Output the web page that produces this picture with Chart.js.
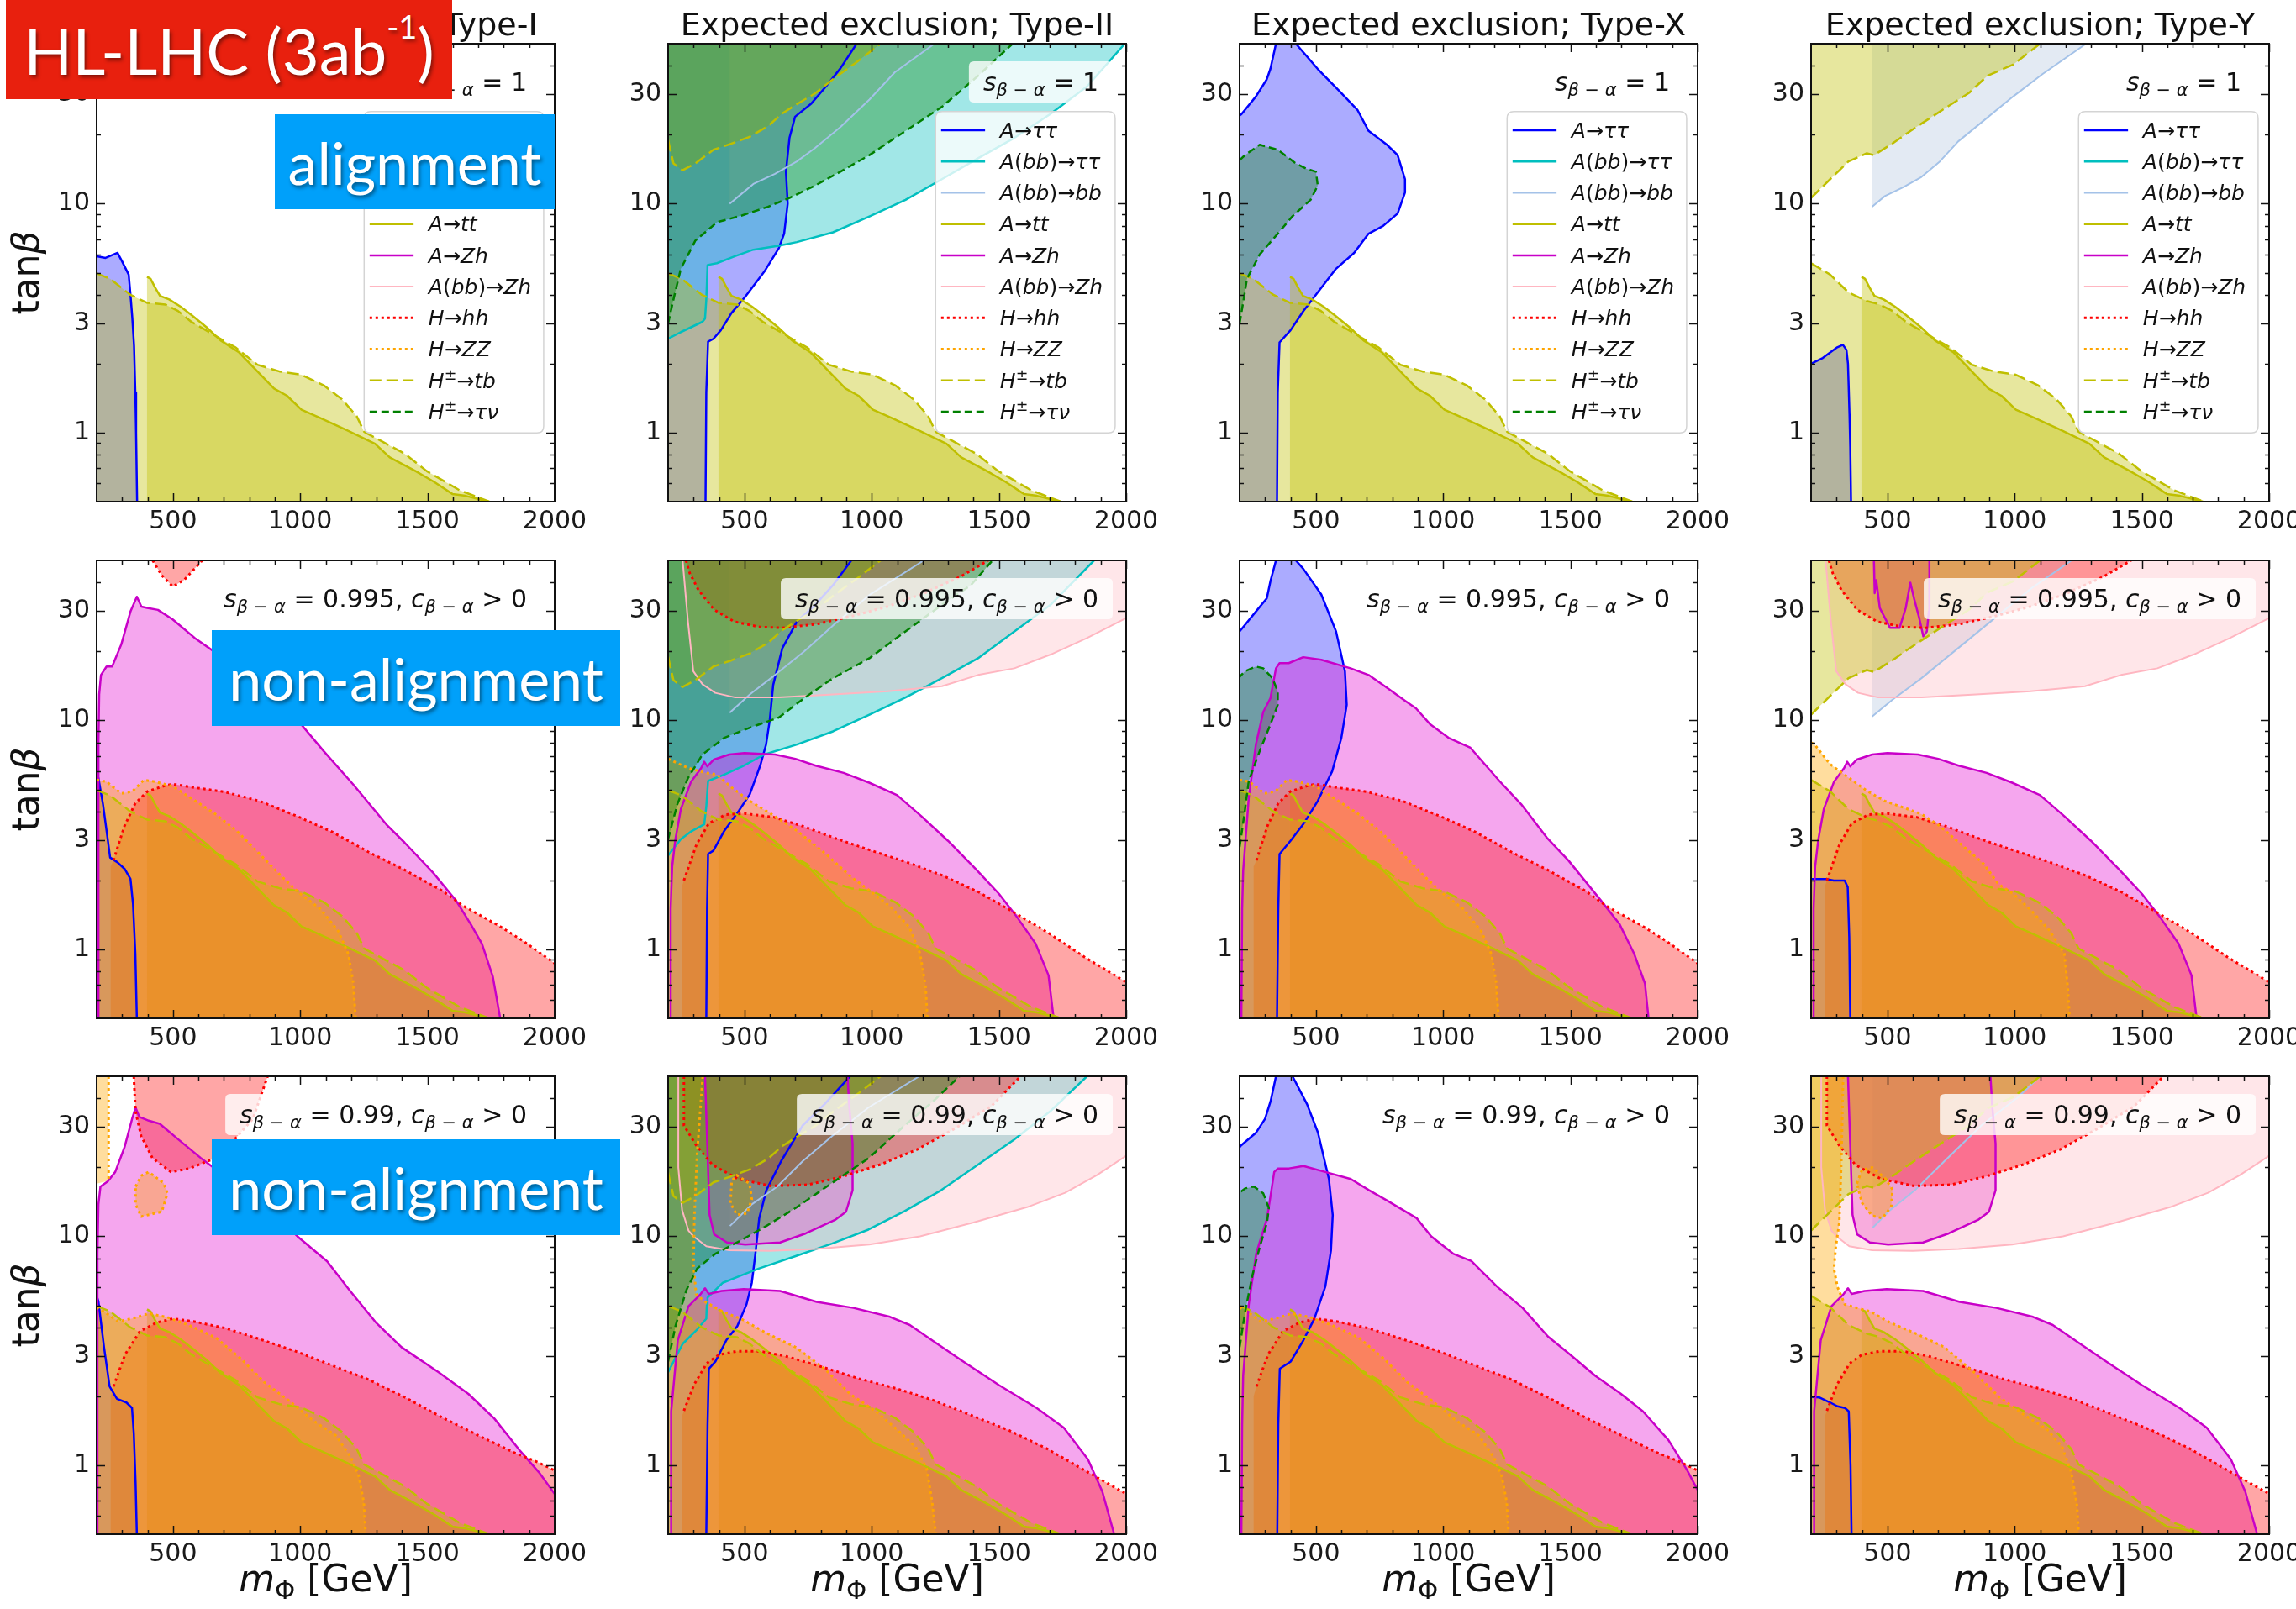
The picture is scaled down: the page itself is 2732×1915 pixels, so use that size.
<!DOCTYPE html>
<html>
<head>
<meta charset="utf-8">
<title>HL-LHC expected exclusion</title>
<script src="https://cdn.jsdelivr.net/npm/chart.js@4.4.0/dist/chart.umd.min.js"></script>
<style>
  body { margin: 0; width: 2732px; height: 1915px; background: #fff; position: relative; overflow: hidden; }
  canvas { position: absolute; }
  .tag { position: absolute; z-index: 10; color: #fff; font-family: Lato, "Open Sans", sans-serif;
         display: flex; align-items: center; justify-content: center; text-shadow: 2px 3px 4px rgba(0,0,0,0.45); }
  #hl { left: 7px; top: 0; width: 531px; height: 118px; background: #e8200e; font-size: 76px; }
  #hl .sup { font-size: 0.5em; position: relative; top: -0.75em; }
  .blue { background: #00a0fa; font-size: 70px; }
</style>
</head>
<body>
<div class="tag" id="hl">HL-LHC (3ab<span class="sup">-1</span>)</div>
<div class="tag blue" style="left:327px;top:136px;width:333px;height:113px">alignment</div>
<div class="tag blue" style="left:252px;top:750px;width:486px;height:114px">non-alignment</div>
<div class="tag blue" style="left:252px;top:1356px;width:486px;height:114px">non-alignment</div>

<script>
// points are [m_Phi in GeV, tan(beta)]
const xTicks = [500, 1000, 1500, 2000];
const yTicks = [1, 3, 10, 30];
const yMinor = [0.6, 0.7, 0.8, 0.9, 2, 4, 5, 6, 7, 8, 9, 20, 40];
const types = ['Type-I', 'Type-II', 'Type-X', 'Type-Y'];
const rowLabels = ['s_{β − α} = 1', 's_{β − α} = 0.995, c_{β − α} > 0', 's_{β − α} = 0.99, c_{β − α} > 0'];
const legendKeys = ['tau', 'bbtau', 'bb', 'tt', 'zh', 'bbzh', 'hh', 'zz', 'tb', 'taunu'];
const legendText = ['A→ττ', 'A(bb)→ττ', 'A(bb)→bb', 'A→tt', 'A→Zh', 'A(bb)→Zh', 'H→hh', 'H→ZZ', 'H^±→tb', 'H^±→τν'];

// shared curves
const ttLine = [[398,4.8],[412,4.7],[430,4.3],[449,3.96],[485,3.82],[530,3.55],[572,3.27],[630,2.9],[687,2.53],[760,2.24],[832,1.85],[897,1.56],[948,1.45],[1005,1.26],[1078,1.16],[1179,1.03],[1294,0.895],[1352,0.78],[1453,0.68],[1526,0.61],[1598,0.54],[1650,0.53],[1740,0.5]];
const tbLow = [[200,4.96],[253,4.7],[333,4.0],[398,3.69],[470,3.63],[520,3.4],[572,3.05],[630,2.8],[687,2.57],[745,2.36],[832,1.98],[919,1.85],[1005,1.79],[1092,1.61],[1164,1.4],[1222,1.18],[1251,1.01],[1338,0.895],[1410,0.81],[1497,0.68],[1627,0.56],[1743,0.5]];
const tbLowY = [[200,5.5],[275,4.9],[347,4.1],[419,3.76],[470,3.63],[520,3.4],[572,3.05],[630,2.8],[687,2.57],[745,2.36],[832,1.98],[919,1.85],[1005,1.79],[1092,1.61],[1164,1.4],[1222,1.18],[1251,1.01],[1338,0.895],[1410,0.81],[1497,0.68],[1627,0.56],[1743,0.5]];
const tbUpII = [[200,19],[207,17.5],[221,15],[257,14],[307,15],[378,17.2],[449,18.3],[520,19.6],[592,21.8],[649,24.8],[706,27.2],[777,30.3],[848,35],[934,41],[1035,50]];
const tbUpY = [[200,10.6],[275,12.8],[347,15.3],[419,16.6],[447,16.3],[519,18.3],[591,20.8],[663,23.5],[735,26.5],[821,30.5],[893,36.2],[994,40.5],[1100,50]];

// row 1, alignment
const I1_tau = [[200,5.9],[235,5.8],[282,6.1],[300,5.6],[326,4.9],[333,4.0],[340,3.2],[347,2.4],[352,1.5],[355,1.0],[359,0.5]];
const II1_tau = [[347,0.5],[350,1.5],[357,2.5],[378,2.57],[407,2.8],[449,3.33],[506,3.96],[578,5.05],[635,6.4],[656,7.4],[670,10],[663,13.8],[677,19.4],[699,24],[763,27.4],[820,32.5],[877,39],[941,50]];
const II1_bbtau = [[200,2.57],[250,2.75],[335,3.05],[345,3.15],[350,3.8],[355,5.4],[392,5.5],[463,5.9],[535,6.3],[635,6.55],[706,6.8],[848,7.5],[991,8.8],[1133,10.4],[1276,12.8],[1418,15.8],[1561,19.4],[1703,24.7],[1846,32.5],[1995,50]];
const II1_bb = [[442,10],[478,10.8],[535,12.2],[620,13.5],[706,15.3],[777,17.5],[877,21.6],[991,28.5],[1091,37.5],[1247,50]];
const II1_taunu = [[200,3],[221,3.82],[250,5.2],[307,6.9],[392,8.3],[492,8.9],[592,9.7],[677,10.6],[777,12],[877,13.8],[991,16.3],[1133,20.8],[1276,26.5],[1418,36.2],[1554,50]];
const X1_tauR = [[347,0.5],[350,1.5],[357,2.48],[400,2.8],[450,3.39],[507,4.1],[579,5.2],[650,6.1],[707,7.4],[764,8.0],[821,9.06],[850,11.2],[850,12.8],[821,16.3],[779,18.1],[707,20.8],[664,25.6],[593,31],[507,38.8],[421,50]];
const X1_tauL = [[343,50],[321,38.8],[307,35],[264,29.4],[207,24.6],[200,24.3]];
const X1_taunu = [[200,3],[214,3.7],[229,4.7],[279,6],[350,7.4],[407,8.8],[479,10.4],[507,12],[500,13.8],[464,14.2],[421,15],[350,17.2],[279,18.1],[221,16.3],[200,15.5]];
const Y1_tau = [[200,2.0],[246,2.12],[303,2.36],[325,2.42],[339,2.3],[345,2.0],[347,1.7],[351,1.2],[354,0.86],[357,0.5]];
const Y1_bb = [[440,9.7],[490,10.8],[562,11.8],[634,13.1],[706,15.3],[778,18.7],[879,23.1],[994,29.4],[1109,36.8],[1281,50]];

// row 2, s = 0.995
const I2_tau = [[200,6.0],[207,5.6],[225,4.3],[239,3.3],[253,2.52],[282,2.4],[311,2.24],[333,2.03],[343,1.58],[352,0.96],[358,0.5]];
const I2_zh = [[207,0.5],[207,8],[210,13],[217,15.8],[239,17.2],[261,17.2],[297,21.5],[333,29.9],[358,34.7],[376,31.4],[398,31],[441,30.4],[499,27.6],[586,22.9],[687,19.1],[832,14.8],[948,11.4],[1092,7.35],[1208,5.26],[1338,3.52],[1410,2.93],[1526,2.14],[1613,1.63],[1670,1.29],[1714,1.06],[1757,0.76],[1786,0.5]];
const I2_hhTop = [[420,50],[456,43],[499,38.5],[543,41],[615,50]];
const IX2_hh = [[266,2.45],[309,3.45],[352,4.35],[400,4.9],[470,5.2],[500,5.27],[590,5.08],[700,4.88],[840,4.45],[985,3.83],[1128,3.25],[1272,2.65],[1415,2.21],[1560,1.8],[1640,1.55],[1780,1.27],[1870,1.1],[2000,0.87]];
const IX2_zz = [[200,5.5],[239,5.4],[297,4.8],[340,4.9],[386,5.5],[430,5.4],[500,5.15],[575,4.55],[660,3.95],[750,3.3],[835,2.65],[920,2.12],[995,1.77],[1080,1.5],[1150,1.2],[1190,0.95],[1208,0.72],[1218,0.5]];
const II2_tau = [[350,0.5],[353,1.5],[357,2.61],[378,2.7],[421,3.3],[478,4.03],[521,4.76],[563,6.4],[585,7.85],[599,9.95],[613,14.3],[649,20.7],[706,27],[777,31.9],[848,39],[920,50]];
const II2_bbtau = [[200,2.57],[250,3.03],[293,3.29],[342,3.52],[350,4.2],[357,5.44],[421,5.8],[492,6.3],[578,7.1],[706,7.85],[848,8.96],[991,10.6],[1133,12.6],[1276,15.3],[1418,18.7],[1561,24.5],[1703,32],[1874,50]];
const II2_bb = [[442,10.8],[521,13],[620,15.8],[734,20],[848,26],[991,35.3],[1205,50]];
const II2_zz = [[200,6.8],[278,6.2],[350,5.9],[392,5.8],[449,5.1],[521,4.45],[606,3.9],[706,3.3],[820,2.61],[920,2.07],[991,1.81],[1076,1.53],[1148,1.25],[1190,0.96],[1212,0.69],[1219,0.5]];
const II2_taunu = [[200,3.03],[236,4.3],[278,5.6],[335,7.1],[421,8.4],[521,9.3],[635,10.3],[734,12.5],[848,15.3],[991,18.7],[1133,24.5],[1276,32],[1390,39],[1475,50]];
const IIY2_zh = [[210,0.5],[210,1.5],[216,2.3],[228,3.0],[250,4.1],[290,5.4],[330,6.2],[342,6.6],[354,6.3],[380,6.75],[440,7.1],[500,7.2],[620,7.1],[700,6.8],[780,6.35],[890,5.9],[990,5.35],[1100,4.72],[1195,3.82],[1300,2.98],[1410,2.24],[1500,1.75],[1572,1.38],[1644,1.06],[1695,0.77],[1715,0.5]];
const IIY2_bbzh = [[257,50],[278,27],[299,16.4],[335,14.4],[385,13.2],[464,12.6],[635,12.6],[848,13],[1062,13.4],[1276,14.1],[1418,15.8],[1561,16.9],[1703,19.4],[1846,22.9],[2000,28]];
const IIY2_hh = [[262,2.0],[312,2.88],[360,3.55],[425,3.88],[500,3.92],[615,3.78],[730,3.45],[860,3.05],[1000,2.7],[1140,2.4],[1280,2.1],[1420,1.78],[1560,1.45],[1700,1.17],[1840,0.92],[2000,0.72]];
const IIY2_hhTop = [[270,50],[285,44],[320,37],[380,30.5],[460,27],[560,25.6],[650,25.4],[780,26.3],[920,28.5],[1064,31.5],[1207,36],[1350,42.5],[1458,50]];
const X2_tauR = [[347,0.5],[352,1.5],[357,2.61],[400,2.98],[450,3.52],[507,4.45],[564,6],[600,8.4],[621,11.7],[614,16.4],[579,24.5],[521,35.5],[450,46],[421,50]];
const X2_tauL = [[343,50],[321,40.5],[307,34.2],[264,29.9],[207,25],[200,24.5]];
const X2_taunu = [[200,2.8],[219,3.9],[236,5.44],[279,7.35],[321,9.6],[350,11.7],[350,13.4],[329,15.3],[293,16.9],[264,17.2],[221,16.4],[200,15.5]];
const X2_zh = [[207,0.5],[210,1.5],[214,2.2],[236,4.6],[264,7.85],[293,10.9],[321,12.5],[343,16.9],[357,17.8],[393,17.8],[450,18.9],[521,18.4],[636,16.9],[707,15.8],[779,13.9],[850,12.2],[893,11.3],[950,9.6],[1021,8.4],[1107,7.6],[1221,5.44],[1307,4.3],[1407,3.08],[1493,2.44],[1621,1.63],[1693,1.29],[1750,0.96],[1793,0.71],[1807,0.5]];
const Y2_tau = [[200,2.03],[260,2.03],[289,2.0],[332,2.0],[344,1.87],[350,1.13],[354,0.5]];
const Y2_bb = [[440,10.4],[519,12.3],[634,15.3],[778,20.7],[922,28],[1066,37.8],[1224,50]];
const Y2_zhTop = [[447,50],[450,36],[456,41],[470,31],[510,25.4],[548,25.4],[572,31],[590,40],[605,34],[625,28],[641,23.3],[655,24.5],[663,30],[665,50]];
const Y2_zz = [[200,8.0],[214,7.85],[275,6.44],[347,5.63],[419,4.93],[490,4.45],[562,4.17],[634,3.9],[706,3.46],[792,2.86],[879,2.36],[936,1.93],[994,1.75],[1065,1.48],[1137,1.21],[1195,0.96],[1209,0.68],[1216,0.5]];

// row 3, s = 0.99
const I3_tau = [[200,5.5],[207,5.2],[229,3.28],[251,2.21],[280,1.95],[317,1.88],[339,1.78],[346,1.38],[353,0.84],[358,0.5]];
const I3_zh = [[203,0.5],[203,8.4],[207,13.8],[215,16.5],[244,17.4],[273,19.1],[310,24.6],[339,32.5],[353,36.5],[368,33.2],[405,32],[448,31],[521,26.5],[609,22],[741,17.1],[887,12.9],[989,10],[1106,7.77],[1193,5.83],[1296,4.22],[1398,3.28],[1544,2.55],[1661,2.05],[1763,1.6],[1866,1.15],[1939,0.93],[2000,0.75]];
const I3_hhTop = [[346,50],[353,35],[375,27.4],[419,22],[492,19.1],[565,19.8],[668,22],[741,26.4],[814,32.6],[872,50]];
const I3_zzTop = [[247,50],[247,17.5]];
const I3_zzBlob = [[353,16.5],[375,18.4],[405,19.1],[463,17.1],[478,15.4],[456,12.8],[375,12.2],[353,13.8],[353,16.5]];
const IX3_hh = [[266,2.21],[312,3.05],[370,3.85],[435,4.2],[500,4.37],[580,4.25],[703,3.98],[833,3.58],[978,3.16],[1122,2.74],[1268,2.37],[1412,1.98],[1557,1.62],[1700,1.35],[1846,1.13],[1926,1.04],[2000,0.95]];
const IX3_zz = [[200,4.9],[215,4.8],[285,4.25],[348,4.4],[405,4.6],[475,4.44],[570,4.06],[670,3.6],[770,2.9],[860,2.3],[960,1.9],[1050,1.57],[1140,1.35],[1200,1.08],[1230,0.9],[1250,0.69],[1257,0.5]];
const II3_tau = [[350,0.5],[355,1.5],[360,2.64],[386,2.84],[429,3.52],[472,4.06],[508,5.04],[529,6.27],[543,8.4],[558,12],[586,15.9],[644,21.3],[729,30.5],[815,37.8],[915,50]];
const II3_bbtau = [[200,2.55],[257,3.39],[314,3.92],[350,4.37],[352,5.0],[355,5.4],[415,6.27],[486,6.74],[558,7.24],[701,8.2],[844,9.3],[987,10.7],[1130,12.9],[1273,15.9],[1416,20.5],[1559,26.4],[1702,35.2],[1846,50]];
const II3_bb = [[443,11.1],[529,13.8],[629,16.5],[729,21.3],[844,27.4],[987,36.5],[1187,50]];
const II3_zz = [[336,50],[326,35],[314,23],[303,12],[300,7.5],[310,5.6],[343,5.2],[415,4.68],[486,4.37],[586,3.78],[701,3.28],[815,2.64],[915,2.05],[1016,1.72],[1101,1.43],[1173,1.2],[1216,0.97],[1237,0.7],[1252,0.5]];
const II3_zzBlob = [[445,14],[450,17.5],[470,18.5],[520,17],[529,14.5],[510,12.6],[470,12.4],[445,14]];
const II3_taunu = [[200,2.84],[229,4.06],[272,5.83],[314,7.24],[386,8.4],[486,9.6],[586,11.1],[701,13.3],[844,17.1],[987,21.9],[1130,30.5],[1245,39.2],[1345,50]];
const IIY3_bbzh = [[240,50],[240,20],[255,13],[280,10.6],[300,10],[350,9.05],[440,8.7],[600,8.65],[780,8.8],[990,9.2],[1190,10],[1400,11.5],[1610,13.4],[1760,15.5],[1885,18.5],[2000,22.5]];
const IIY3_zhTop = [[345,50],[356,21.3],[363,12.4],[381,10.2],[431,9.4],[503,9.2],[640,9.4],[741,10.3],[856,11.8],[899,12.8],[925,15.9],[925,25.4],[912,37],[905,50]];
const IIY3_zh = [[210,0.5],[212,1.72],[238,3.52],[280,4.95],[328,5.6],[345,5.93],[360,5.6],[410,5.77],[497,5.88],[640,5.77],[784,5.17],[928,4.87],[1072,4.45],[1150,4.1],[1240,3.5],[1360,2.84],[1500,2.24],[1648,1.78],[1755,1.46],[1850,1.06],[1906,0.77],[1953,0.5]];
const IIY3_hh = [[262,1.73],[302,2.25],[352,2.79],[400,3.04],[470,3.15],[560,3.15],[660,3.0],[805,2.69],[950,2.39],[1094,2.17],[1238,1.93],[1400,1.64],[1540,1.42],[1690,1.18],[1830,0.96],[2000,0.75]];
const IIY3_hhTop = [[262,50],[262,30.5],[310,25],[375,20.5],[475,17.8],[605,16.6],[750,16.8],[890,18.3],[1035,20.6],[1180,24],[1325,29.5],[1470,37],[1585,50]];
const X3_tauR = [[348,0.5],[352,1.5],[358,2.64],[401,2.84],[451,3.52],[494,4.37],[537,6.04],[559,8.67],[566,12.4],[551,17.8],[508,28.4],[465,37.8],[408,50]];
const X3_tauL = [[343,50],[322,39],[300,32.6],[265,28.4],[207,25],[200,24.5]];
const X3_taunu = [[200,3.28],[222,4.69],[250,6.73],[279,8.97],[308,11.5],[315,13.3],[293,15.4],[257,16.5],[222,16.2],[200,15.5]];
const X3_zh = [[207,0.5],[210,1.5],[214,2.46],[236,5.04],[265,8.4],[308,12],[336,19.1],[351,19.8],[394,19.8],[451,20.3],[537,19.1],[637,17.8],[709,15.9],[781,14.3],[896,12],[953,10],[1039,8.4],[1111,7.8],[1211,6.04],[1312,4.87],[1412,3.65],[1498,3.05],[1598,2.46],[1699,2.05],[1785,1.72],[1885,1.29],[1957,0.96],[2000,0.78]];
const Y3_tau = [[200,1.99],[232,1.98],[275,1.88],[304,1.81],[333,1.78],[348,1.72],[355,1.0],[359,0.5]];
const Y3_bb = [[442,10.9],[507,12.9],[608,15.9],[724,21.3],[869,30.5],[1013,40.5],[1100,50]];
const Y3_zz = [[326,50],[319,21.3],[311,11.5],[297,8.97],[290,7.2],[304,6.0],[333,5.04],[434,4.69],[507,4.22],[608,3.78],[724,3.28],[840,2.55],[941,1.98],[1042,1.65],[1129,1.43],[1187,1.2],[1223,0.93],[1245,0.67],[1252,0.5]];
const Y3_zzBlob = [[380,17],[400,19.5],[440,20],[490,18],[520,16],[515,13.5],[480,12],[440,12.3],[400,14],[380,17]];

// styles per channel
const STY = {
  tau:   { line: '#0000ff', fill: 'rgba(0,0,255,0.33)',     w: 2.5, dash: [] },
  bbtau: { line: '#00bfbf', fill: 'rgba(0,191,191,0.37)',   w: 2.5, dash: [] },
  bb:    { line: '#a4c2e8', fill: 'rgba(176,196,222,0.35)', w: 2,   dash: [] },
  tt:    { line: '#bfbf00', fill: 'rgba(191,191,0,0.38)',   w: 2.5, dash: [] },
  zh:    { line: '#c800c8', fill: 'rgba(225,0,205,0.35)',   w: 2.5, dash: [] },
  bbzh:  { line: '#ffb6c1', fill: 'rgba(255,182,193,0.35)', w: 2,   dash: [] },
  hh:    { line: '#ff0000', fill: 'rgba(255,0,0,0.35)',     w: 3,   dash: [3, 4] },
  zz:    { line: '#ffa500', fill: 'rgba(255,165,0,0.38)',   w: 3,   dash: [3, 4] },
  tb:    { line: '#bfbf00', fill: 'rgba(191,191,0,0.38)',   w: 2.5, dash: [14, 6] },
  taunu: { line: '#008000', fill: 'rgba(0,128,0,0.35)',     w: 2.5, dash: [9, 5] }
};
// painting order of the shaded areas (bottom first)
const ORDER = ['tau', 'bbtau', 'bb', 'tt', 'zh', 'bbzh', 'hh', 'tb', 'zz', 'taunu'];

const E = (...p) => ({ e: p });   // closing points along the frame, not stroked

const panels = [
  { col: 0, row: 0, regions: [
    ['tau', E([200,0.5]), I1_tau], ['tt', E([398,0.5]), ttLine], ['tb', E([200,0.5]), tbLow] ] },
  { col: 1, row: 0, regions: [
    ['tau', E([200,50],[200,0.5]), II1_tau], ['bbtau', II1_bbtau, E([2000,50],[200,50])],
    ['bb', E([442,50]), II1_bb], ['tt', E([398,0.5]), ttLine], ['tb', E([200,0.5]), tbLow],
    ['tb', tbUpII, E([200,50])], ['taunu', II1_taunu, E([200,50])] ] },
  { col: 2, row: 0, regions: [
    ['tau', E([200,0.5]), X1_tauR, X1_tauL], ['tt', E([398,0.5]), ttLine], ['tb', E([200,0.5]), tbLow],
    ['taunu', X1_taunu] ] },
  { col: 3, row: 0, regions: [
    ['tau', E([200,0.5]), Y1_tau], ['bb', E([440,50]), Y1_bb], ['tt', E([398,0.5]), ttLine],
    ['tb', E([200,0.5]), tbLowY], ['tb', tbUpY, E([200,50])] ] },

  { col: 0, row: 1, regions: [
    ['tau', E([200,0.5]), I2_tau], ['tt', E([398,0.5]), ttLine], ['zh', I2_zh],
    ['hh', E([255,0.5],[255,2.3]), IX2_hh, E([2000,0.5])], ['hh', I2_hhTop],
    ['zz', E([200,0.5]), IX2_zz], ['tb', E([200,0.5]), tbLow] ] },
  { col: 1, row: 1, regions: [
    ['tau', E([200,50],[200,0.5]), II2_tau], ['bbtau', II2_bbtau, E([200,50])], ['bb', E([442,50]), II2_bb],
    ['tt', E([398,0.5]), ttLine], ['zh', IIY2_zh], ['bbzh', IIY2_bbzh, E([2000,50])],
    ['hh', E([255,0.5],[255,1.9]), IIY2_hh, E([2000,0.5])], ['hh', IIY2_hhTop],
    ['zz', E([200,0.5]), II2_zz], ['tb', E([200,0.5]), tbLow], ['tb', tbUpII, E([200,50])],
    ['taunu', II2_taunu, E([200,50])] ] },
  { col: 2, row: 1, regions: [
    ['tau', E([200,0.5]), X2_tauR, X2_tauL], ['tt', E([398,0.5]), ttLine], ['zh', X2_zh],
    ['hh', E([255,0.5],[255,2.3]), IX2_hh, E([2000,0.5])], ['zz', E([200,0.5]), IX2_zz],
    ['tb', E([200,0.5]), tbLow], ['taunu', X2_taunu] ] },
  { col: 3, row: 1, regions: [
    ['tau', E([200,0.5]), Y2_tau], ['bb', E([440,50]), Y2_bb], ['tt', E([398,0.5]), ttLine],
    ['zh', Y2_zhTop], ['zh', IIY2_zh], ['bbzh', IIY2_bbzh, E([2000,50])],
    ['hh', E([255,0.5],[255,1.9]), IIY2_hh, E([2000,0.5])], ['hh', IIY2_hhTop],
    ['zz', E([200,0.5]), Y2_zz], ['tb', E([200,0.5]), tbLowY], ['tb', tbUpY, E([200,50])] ] },

  { col: 0, row: 2, regions: [
    ['tau', E([200,0.5]), I3_tau], ['tt', E([398,0.5]), ttLine], ['zh', I3_zh, E([2000,0.5])],
    ['hh', E([255,0.5],[255,2.0]), IX3_hh, E([2000,0.5])], ['hh', I3_hhTop],
    ['zz', E([200,0.5]), IX3_zz], ['zz', E([200,50]), I3_zzTop, E([200,17])], ['zz', I3_zzBlob],
    ['tb', E([200,0.5]), tbLow] ] },
  { col: 1, row: 2, regions: [
    ['tau', E([200,50],[200,0.5]), II3_tau], ['bbtau', II3_bbtau, E([200,50])], ['bb', E([443,50]), II3_bb],
    ['tt', E([398,0.5]), ttLine], ['zh', IIY3_zhTop], ['zh', IIY3_zh], ['bbzh', IIY3_bbzh, E([2000,50])],
    ['hh', E([255,0.5],[255,1.65]), IIY3_hh, E([2000,0.5])], ['hh', IIY3_hhTop],
    ['zz', E([200,50]), II3_zz, E([200,0.5])], ['zz', II3_zzBlob],
    ['tb', E([200,0.5]), tbLow], ['tb', tbUpII, E([200,50])], ['taunu', II3_taunu, E([200,50])] ] },
  { col: 2, row: 2, regions: [
    ['tau', E([200,0.5]), X3_tauR, X3_tauL], ['tt', E([398,0.5]), ttLine], ['zh', X3_zh, E([2000,0.5])],
    ['hh', E([255,0.5],[255,2.0]), IX3_hh, E([2000,0.5])], ['zz', E([200,0.5]), IX3_zz],
    ['tb', E([200,0.5]), tbLow], ['taunu', X3_taunu] ] },
  { col: 3, row: 2, regions: [
    ['tau', E([200,0.5]), Y3_tau], ['bb', E([442,50]), Y3_bb], ['tt', E([398,0.5]), ttLine],
    ['zh', IIY3_zhTop], ['zh', IIY3_zh], ['bbzh', IIY3_bbzh, E([2000,50])],
    ['hh', E([255,0.5],[255,1.65]), IIY3_hh, E([2000,0.5])], ['hh', IIY3_hhTop],
    ['zz', E([200,50]), Y3_zz, E([200,0.5])], ['zz', Y3_zzBlob],
    ['tb', E([200,0.5]), tbLowY], ['tb', tbUpY, E([200,50])] ] }
];

// page layout
const colX = [115, 795, 1475, 2155];
const rowY = [52, 667, 1281];
const PW = 545, PH = 545;
const PAD_L = 115, PAD_R = 60, PAD_T = 60, PAD_B = 100;

const toXY = pts => pts.map(p => ({ x: p[0], y: p[1] }));

// start the outline at its leftmost point and end it at its rightmost one,
// so the filler never clips a closed outline to a zero-width band
function fillPath(poly) {
  let iMin = 0, iMax = 0;
  poly.forEach((p, i) => {
    if (p[0] < poly[iMin][0]) iMin = i;
    if (p[0] > poly[iMax][0]) iMax = i;
  });
  const out = poly.slice(iMin).concat(poly.slice(0, iMin));
  out.push(out[0], poly[iMax]);
  return out;
}

function buildDatasets(regions) {
  const fills = [], lines = [];
  const sorted = regions.slice().sort((a, b) => ORDER.indexOf(a[0]) - ORDER.indexOf(b[0]));
  for (const [k, ...segs] of sorted) {
    const st = STY[k];
    const poly = [];
    segs.forEach(s => {
      if (s.e) { poly.push(...s.e); return; }
      poly.push(...s);
      lines.push({ data: toXY(s), borderColor: st.line, borderWidth: st.w, borderDash: st.dash,
                   borderCapStyle: 'butt', borderJoinStyle: 'round', fill: false, pointRadius: 0 });
    });
    fills.push({ data: toXY(fillPath(poly)), fill: 'shape', backgroundColor: st.fill,
                 borderColor: 'rgba(0,0,0,0)', borderWidth: 0, pointRadius: 0 });
  }
  // the first dataset is painted last
  return fills.concat(lines).reverse();
}

// tiny mathtext: letters italic, _{..} subscript, ^x superscript
function parseMath(str) {
  const out = [];
  const push = (ch, mode) => {
    const it = /[A-Za-z\u03b1-\u03c9]/.test(ch);
    const last = out[out.length - 1];
    if (last && last.it === it && last.mode === mode) last.t += ch;
    else out.push({ t: ch, it, mode });
  };
  let i = 0;
  while (i < str.length) {
    const c = str[i];
    if (c === '_' || c === '^') {
      const mode = c === '_' ? 'sub' : 'sup';
      if (str[i + 1] === '{') {
        const j = str.indexOf('}', i);
        for (const ch of str.slice(i + 2, j)) push(ch, mode);
        i = j + 1;
      } else { push(str[i + 1], mode); i += 2; }
    } else { push(c, ''); i++; }
  }
  return out;
}
const segFont = (s, F) => (s.it ? 'italic ' : '') + (s.mode ? F * 0.7 : F) + 'px "DejaVu Sans"';
function richWidth(ctx, segs, F) {
  let w = 0;
  for (const s of segs) { ctx.font = segFont(s, F); w += ctx.measureText(s.t).width; }
  return w;
}
function drawRich(ctx, segs, x, y, F, align) {
  const w = richWidth(ctx, segs, F);
  let cx = align === 'right' ? x - w : align === 'center' ? x - w / 2 : x;
  ctx.textAlign = 'left';
  ctx.textBaseline = 'alphabetic';
  for (const s of segs) {
    ctx.font = segFont(s, F);
    const dy = s.mode === 'sub' ? 0.2 * F : s.mode === 'sup' ? -0.4 * F : 0;
    ctx.fillText(s.t, cx, y + dy);
    cx += ctx.measureText(s.t).width;
  }
}
function roundRect(ctx, x, y, w, h, r) {
  ctx.beginPath();
  ctx.moveTo(x + r, y); ctx.lineTo(x + w - r, y); ctx.quadraticCurveTo(x + w, y, x + w, y + r);
  ctx.lineTo(x + w, y + h - r); ctx.quadraticCurveTo(x + w, y + h, x + w - r, y + h);
  ctx.lineTo(x + r, y + h); ctx.quadraticCurveTo(x, y + h, x, y + h - r);
  ctx.lineTo(x, y + r); ctx.quadraticCurveTo(x, y, x + r, y);
  ctx.closePath();
}

const xMinor = [];
for (let v = 300; v < 2000; v += 100) if (!xTicks.includes(v)) xMinor.push(v);

// matplotlib-like frame with inward ticks on all four sides
const framePlugin = {
  id: 'frame',
  afterDatasetsDraw(chart) {
    const { ctx, chartArea: a, scales: { x, y } } = chart;
    ctx.save();
    ctx.strokeStyle = '#111';
    ctx.lineWidth = 1.5;
    const seg = (x1, y1, x2, y2) => { ctx.beginPath(); ctx.moveTo(x1, y1); ctx.lineTo(x2, y2); ctx.stroke(); };
    xTicks.map(v => [v, 10]).concat(xMinor.map(v => [v, 5])).forEach(([v, L]) => {
      const px = Math.round(x.getPixelForValue(v)) + 0.5;
      seg(px, a.bottom, px, a.bottom - L); seg(px, a.top, px, a.top + L);
    });
    yTicks.map(v => [v, 10]).concat(yMinor.map(v => [v, 5])).forEach(([v, L]) => {
      const py = Math.round(y.getPixelForValue(v)) + 0.5;
      seg(a.left, py, a.left + L, py); seg(a.right, py, a.right - L, py);
    });
    ctx.lineWidth = 2;
    ctx.strokeRect(a.left, a.top, a.right - a.left, a.bottom - a.top);
    ctx.restore();
  }
};

function textPlugin(p) {
  return {
    id: 'panelText',
    afterDraw(chart) {
      const { ctx, chartArea: a } = chart;
      const w = a.right - a.left, h = a.bottom - a.top;
      ctx.save();
      ctx.fillStyle = '#111';
      if (p.row === 0) drawRich(ctx, [{ t: 'Expected exclusion; ' + types[p.col] }], a.left + w / 2, a.top - 10, 38, 'center');

      // s_{beta-alpha} box
      const segs = parseMath(rowLabels[p.row]);
      const F = 30;
      const tw = richWidth(ctx, segs, F);
      const bx1 = a.right - 16, bx0 = bx1 - tw - 34;
      ctx.fillStyle = 'rgba(255,255,255,0.8)';
      roundRect(ctx, bx0, a.top + 21, bx1 - bx0, 49, 6);
      ctx.fill();
      ctx.fillStyle = '#111';
      drawRich(ctx, segs, bx1 - 17, a.top + 45 + 0.36 * F, F, 'right');

      if (p.row === 0) {
        const lx0 = a.left + 0.584 * w, lx1 = a.left + 0.976 * w;
        const ly0 = a.top + 0.148 * h, ly1 = a.top + 0.85 * h;
        ctx.fillStyle = 'rgba(255,255,255,0.8)';
        ctx.strokeStyle = '#d4d4d4';
        ctx.lineWidth = 1.5;
        roundRect(ctx, lx0, ly0, lx1 - lx0, ly1 - ly0, 8);
        ctx.fill(); ctx.stroke();
        legendKeys.forEach((k, i) => {
          const cy = a.top + (0.189 + 0.0683 * i) * h;
          const st = STY[k];
          ctx.strokeStyle = st.line; ctx.lineWidth = st.w; ctx.setLineDash(st.dash);
          ctx.beginPath(); ctx.moveTo(a.left + 0.596 * w, cy); ctx.lineTo(a.left + 0.692 * w, cy); ctx.stroke();
          ctx.setLineDash([]);
          ctx.fillStyle = '#111';
          drawRich(ctx, parseMath(legendText[i]), a.left + 0.7245 * w, cy + 0.35 * 25, 25, 'left');
        });
      }

      ctx.fillStyle = '#111';
      if (p.col === 0) {
        ctx.save();
        ctx.translate(a.left - 84, a.top + h / 2);
        ctx.rotate(-Math.PI / 2);
        drawRich(ctx, [{ t: 'tan' }, { t: 'β', it: true }], 0, 0.35 * 44, 44, 'center');
        ctx.restore();
      }
      if (p.row === 2) {
        drawRich(ctx, [{ t: 'm', it: true }, { t: 'Φ', mode: 'sub' }, { t: ' [GeV]' }], a.left + w / 2, a.bottom + 68, 44, 'center');
      }
      ctx.restore();
    }
  };
}

Chart.defaults.font.family = 'DejaVu Sans';

panels.forEach(p => {
  const cv = document.createElement('canvas');
  const W = PW + PAD_L + PAD_R, H = PH + PAD_T + PAD_B;
  cv.width = W; cv.height = H;
  cv.style.width = W + 'px'; cv.style.height = H + 'px';
  cv.style.left = (colX[p.col] - PAD_L) + 'px';
  cv.style.top = (rowY[p.row] - PAD_T) + 'px';
  document.body.appendChild(cv);

  new Chart(cv, {
    type: 'line',
    data: { datasets: buildDatasets(p.regions) },
    options: {
      responsive: false,
      animation: false,
      devicePixelRatio: 1,
      events: [],
      layout: { padding: { left: PAD_L - 70, top: PAD_T, right: PAD_R, bottom: PAD_B - 50 } },
      plugins: { legend: { display: false }, tooltip: { enabled: false }, title: { display: false } },
      elements: { point: { radius: 0 }, line: { tension: 0 } },
      scales: {
        x: {
          type: 'linear', min: 200, max: 2000,
          afterBuildTicks: s => { s.ticks = xTicks.map(v => ({ value: v })); },
          afterFit: s => { s.height = 50; },
          grid: { display: false, drawTicks: false },
          border: { display: false },
          ticks: { autoSkip: false, maxRotation: 0, padding: 6, color: '#1a1a1a',
                   font: { family: 'DejaVu Sans', size: 30 }, callback: v => String(v) }
        },
        y: {
          type: 'logarithmic', min: 0.5, max: 50,
          afterBuildTicks: s => { s.ticks = yTicks.map(v => ({ value: v })); },
          afterFit: s => { s.width = 70; },
          grid: { display: false, drawTicks: false },
          border: { display: false },
          ticks: { autoSkip: false, padding: 8, color: '#1a1a1a',
                   font: { family: 'DejaVu Sans', size: 30 }, callback: v => String(v) }
        }
      }
    },
    plugins: [framePlugin, textPlugin(p)]
  });
});
</script>
</body>
</html>
